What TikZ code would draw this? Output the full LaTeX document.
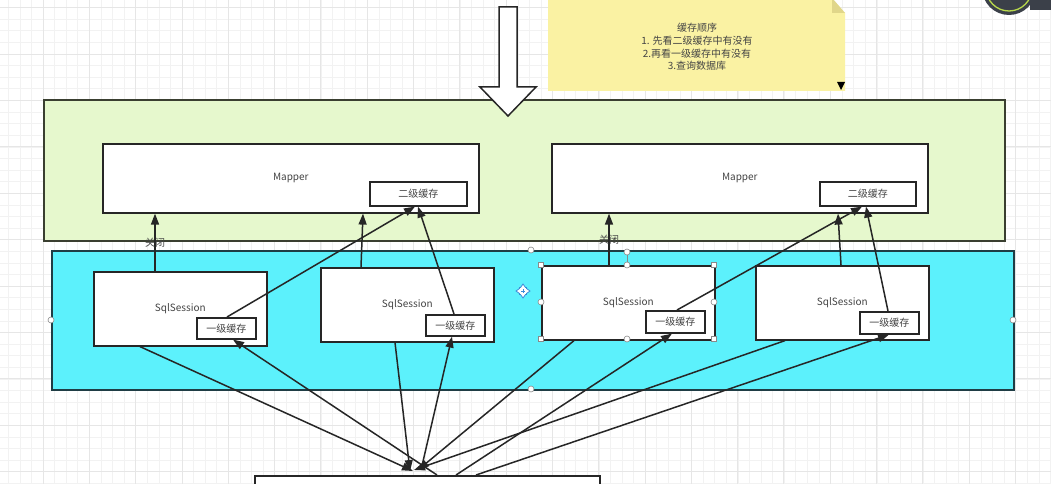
\documentclass[tikz,border=0pt]{standalone}
\usepackage{fontspec}
\newfontfamily\cjk{Noto Sans CJK SC}
\usetikzlibrary{arrows.meta}
\definecolor{gridminor}{HTML}{F2F2F2}
\definecolor{gridmajor}{HTML}{E6E6E6}
\definecolor{greenbg}{HTML}{E6F8CD}
\definecolor{cyanbg}{HTML}{5CF1FC}
\definecolor{notebg}{HTML}{FAF2A3}
\definecolor{notefold}{HTML}{E0D68A}
\definecolor{edge}{HTML}{262626}
\definecolor{greenedge}{HTML}{3A3F30}
\definecolor{cyanedge}{HTML}{1F3D45}
\definecolor{txt}{HTML}{444444}
\definecolor{avatar}{HTML}{3B4049}
\definecolor{ring}{HTML}{B8D84C}
\definecolor{handle}{HTML}{8A8A8A}
\definecolor{moveblue}{HTML}{3C8CD8}
\begin{document}
\begin{tikzpicture}[x=1pt,y=-1pt,
  txtfont/.style={font=\cjk\fontsize{10}{12.7}\selectfont,text=txt},
  box/.style={draw=edge,line width=1.6pt,fill=white,anchor=north west,inner sep=0pt,txtfont},
  arr/.style={draw=edge,line width=1.5pt,-{Triangle[length=11pt,width=8pt]}},
  lbl/.style={txtfont,inner sep=1pt},
  hc/.style={draw=handle,fill=white,line width=0.6pt},
]
\useasboundingbox (0,0) rectangle (1051,484);
\clip (0,0) rectangle (1051,484);
\fill[white] (0,0) rectangle (1051,484);
% grid
\foreach \i in {0,...,90}{\pgfmathsetmacro\xx{8.3+11.58*\i}\draw[gridminor,line width=0.6pt] (\xx,0) -- (\xx,484);}
\foreach \i in {0,...,42}{\pgfmathsetmacro\yy{7.6+11.6*\i}\draw[gridminor,line width=0.6pt] (0,\yy) -- (1051,\yy);}
\foreach \i in {0,...,22}{\pgfmathsetmacro\xx{43+46.3*\i}\draw[gridmajor,line width=0.8pt] (\xx,0) -- (\xx,484);}
\foreach \i in {0,...,10}{\pgfmathsetmacro\yy{7.6+46.4*\i}\draw[gridmajor,line width=0.8pt] (0,\yy) -- (1051,\yy);}

% note
\fill[notebg] (548,-2) -- (832,-2) -- (845,13) -- (845,91) -- (548,91) -- cycle;
\fill[notefold] (832,-2) -- (845,13) -- (832,13) -- cycle;
\fill[black] (837,82) -- (845,82) -- (841,90) -- cycle;
\node[txtfont,align=center] (note) at (697,47) {缓存顺序\\1. 先看二级缓存中有没有\\2.再看一级缓存中有没有\\3.查询数据库};

% avatar
\fill[avatar] (1030,-2) rectangle (1051,10);
\fill[avatar] (1009,-12) circle (27);
\draw[ring,line width=1.3pt] (1009,-12) circle (23);

% containers
\node[box,draw=greenedge,fill=greenbg,minimum width=961pt,minimum height=141pt] (green) at (43,99) {};
\node[box,draw=cyanedge,fill=cyanbg,minimum width=962pt,minimum height=139pt] (cyan) at (51,250) {};

% hollow arrow
\draw[draw=edge,line width=1.5pt,fill=white] (499,7) -- (517,7) -- (517,87) -- (536,87) -- (508,116) -- (480,87) -- (499,87) -- cycle;

% mappers
\node[box,minimum width=376pt,minimum height=69pt] (m1) at (102,143) {Mapper};
\node[box,minimum width=376pt,minimum height=69pt] (m2) at (551,143) {Mapper};
\node[box,minimum width=97pt,minimum height=24pt] (k1) at (369,181) {二级缓存};
\node[box,minimum width=96pt,minimum height=24pt] (k2) at (819,181) {二级缓存};

% sessions
\node[box,minimum width=173pt,minimum height=74pt] (s1) at (93,271) {SqlSession};
\node[box,minimum width=173pt,minimum height=74pt] (s2) at (320,267) {SqlSession};
\node[box,minimum width=173pt,minimum height=74pt] (s3) at (541,265) {SqlSession};
\node[box,minimum width=173pt,minimum height=74pt] (s4) at (755,265) {SqlSession};
\node[box,minimum width=59pt,minimum height=21pt] (c1) at (196,317) {一级缓存};
\node[box,minimum width=59pt,minimum height=21pt] (c2) at (425,314) {一级缓存};
\node[box,minimum width=59pt,minimum height=22pt] (c3) at (645,310) {一级缓存};
\node[box,minimum width=59pt,minimum height=22pt] (c4) at (859,311) {一级缓存};

% bottom box
\node[box,minimum width=345pt,minimum height=40pt] (db) at (254,475) {};

% upward arrows
\draw[arr] (155,0 |- s1.north) -- node[lbl,midway] {关闭} (155,0 |- m1.south);
\draw[arr] (361,0 |- s2.north) -- (363,0 |- m1.south);
\draw[arr] (227,0 |- c1.north) -- (415,0 |- k1.south);
\draw[arr] (454,0 |- c2.north) -- (418,0 |- k1.south);
\draw[arr] (609,0 |- s3.north) -- node[lbl,midway] {关闭} (609,0 |- m2.south);
\draw[arr] (841,0 |- s4.north) -- (838,0 |- m2.south);
\draw[arr] (677,0 |- c3.north) -- (862,0 |- k2.south);
\draw[arr] (888,0 |- c4.north) -- (866,0 |- k2.south);

% hub
\coordinate (h1) at (413,471);
\coordinate (h2) at (410,471);
\coordinate (h3) at (418,470);
\coordinate (h4) at (414,470);
\coordinate (g2) at (421,470);
\draw[arr] (140,0 |- s1.south) -- (h1);
\draw[arr] (395,0 |- s2.south) -- (h2);
\draw[arr] (574,0 |- s3.south) -- (h3);
\draw[arr] (785,0 |- s4.south) -- (h4);
\draw[arr] (437,0 |- db.north) -- (233,0 |- c1.south);
\draw[arr] (g2) -- (452,0 |- c2.south);
\draw[arr] (456,0 |- db.north) -- (672,0 |- c3.south);
\draw[arr] (476,0 |- db.north) -- (889,0 |- c4.south);

% selection handles
\foreach \p in {(51,320),(1013,320),(531,250),(531,389)}{\draw[hc] \p circle (3);}
\draw[handle,line width=0.6pt] (627,255) -- (627,265);
\foreach \p in {(627,252),(627,265),(627,339),(541,302),(714,302)}{\draw[hc] \p circle (3);}
\foreach \p in {(541,265),(714,265),(541,339),(714,339)}{\draw[hc] \p ++(-2.5,-2.5) rectangle ++(5,5);}
% move icon
\begin{scope}[shift={(523,291)}]
\draw[moveblue,line width=0.8pt,fill=white] (0,-7) -- (2.5,-3.5) -- (3.5,-3.5) -- (3.5,-2.5) -- (7,0) -- (3.5,2.5) -- (3.5,3.5) -- (2.5,3.5) -- (0,7) -- (-2.5,3.5) -- (-3.5,3.5) -- (-3.5,2.5) -- (-7,0) -- (-3.5,-2.5) -- (-3.5,-3.5) -- (-2.5,-3.5) -- cycle;
\draw[moveblue,line width=0.6pt] (-2,0) -- (2,0) (0,-2) -- (0,2);
\end{scope}
\end{tikzpicture}
\end{document}
